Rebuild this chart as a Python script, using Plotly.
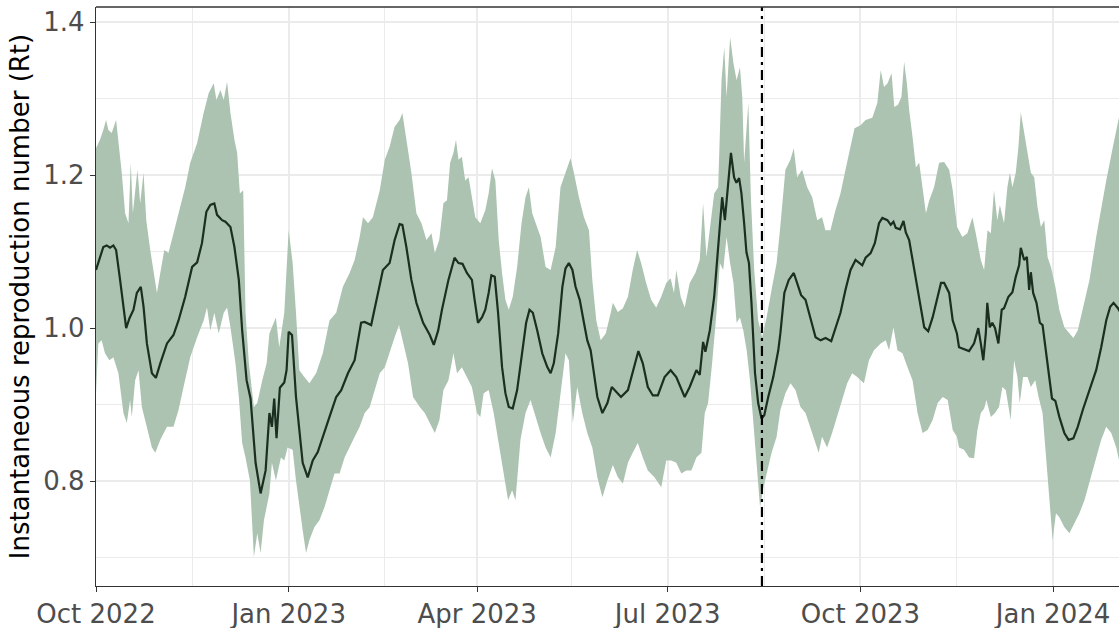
import pandas as pd
import plotly.graph_objects as go

START = pd.Timestamp("2022-10-01")
EVENT_DATE = "2023-08-15"

# (days since 2022-10-01, Rt)
median_pts = [(0,1.076),(3.5,1.106),(5.1,1.108),(6.7,1.105),(8.3,1.108),(9.6,1.102),(11.5,1.063),(13.1,1.028),(14.4,1.000),(16.0,1.013),(17.9,1.024),(19.5,1.046),(21.4,1.054),(22.7,1.028),(24.3,0.980),(26.7,0.941),(28.6,0.935),(30.7,0.954),(33.9,0.980),(37.0,0.991),(39.4,1.010),(42.6,1.041),(45.9,1.080),(48.3,1.086),(50.6,1.111),(52.7,1.152),(54.6,1.161),(56.5,1.163),(57.8,1.148),(60.2,1.141),(61.8,1.139),(64.2,1.132),(66.1,1.106),(68.2,1.063),(69.8,0.997),(71.9,0.932),(73.8,0.908),(76.2,0.824),(78.6,0.784),(81.0,0.814),(82.8,0.889),(84.0,0.871),(85.1,0.908),(86.2,0.856),(87.8,0.922),(89.9,0.929),(91.0,0.945),(92.0,0.995),(93.6,0.991),(95.5,0.910),(97.1,0.867),(98.7,0.824),(101.1,0.805),(103.5,0.827),(105.9,0.838),(109.1,0.863),(111.5,0.884),(114.7,0.910),(117.1,0.919),(120.3,0.941),(123.5,0.958),(126.6,1.007),(128.3,1.008),(131.4,1.004),(134.6,1.046),(137.0,1.076),(140.2,1.085),(142.6,1.115),(145.0,1.136),(146.3,1.135),(148.2,1.106),(150.6,1.063),(153.0,1.033),(156.2,1.007),(159.4,0.991),(161.3,0.978),(163.4,0.997),(165.2,1.024),(168.3,1.063),(171.2,1.092),(173.1,1.085),(175.0,1.084),(177.1,1.072),(179.5,1.063),(180.8,1.037),(182.4,1.007),(184.3,1.014),(185.9,1.024),(187.5,1.046),(188.8,1.069),(190.4,1.067),(192.0,1.020),(193.9,0.949),(195.5,0.915),(197.1,0.897),(199.0,0.895),(201.1,0.919),(203.5,0.967),(205.4,1.007),(207.0,1.024),(208.6,1.020),(210.7,0.997),(213.1,0.967),(215.5,0.949),(217.1,0.941),(218.6,0.954),(220.7,0.993),(222.7,1.054),(224.2,1.078),(225.8,1.085),(227.5,1.076),(229.0,1.054),(231.0,1.037),(233.0,1.007),(234.6,0.984),(236.2,0.971),(237.8,0.941),(239.4,0.910),(241.8,0.889),(244.2,0.902),(246.3,0.923),(250.7,0.910),(254.0,0.919),(257.2,0.954),(259.0,0.970),(261.1,0.954),(263.5,0.923),(265.9,0.912),(268.3,0.912),(271.5,0.936),(274.4,0.945),(277.1,0.936),(279.2,0.923),(281.1,0.910),(283.5,0.923),(286.7,0.945),(288.3,0.939),(289.9,0.982),(291.0,0.969),(293.1,0.997),(295.2,1.041),(296.7,1.093),(297.9,1.128),(299.0,1.171),(300.3,1.141),(301.9,1.190),(303.2,1.229),(304.7,1.197),(305.8,1.190),(307.1,1.196),(308.2,1.176),(309.5,1.137),(310.6,1.099),(311.8,1.085),(313.0,1.033),(314.7,0.941),(316.2,0.902),(317.8,0.882),(319.1,0.886),(321.0,0.910),(323.4,0.936),(325.8,0.971),(326.8,0.993),(328.7,1.046),(330.8,1.063),(333.2,1.072),(334.8,1.059),(336.7,1.043),(338.8,1.037),(341.2,1.014),(343.6,0.988),(346.0,0.984),(348.4,0.987),(351.1,0.983),(353.1,1.001),(355.5,1.020),(357.9,1.050),(360.3,1.076),(362.7,1.089),(365.9,1.082),(367.5,1.092),(369.9,1.098),(371.9,1.111),(373.9,1.137),(375.5,1.144),(377.9,1.141),(379.5,1.135),(380.8,1.139),(381.9,1.131),(383.9,1.129),(385.6,1.140),(386.7,1.125),(388.3,1.115),(389.9,1.089),(392.0,1.054),(393.9,1.024),(395.5,1.001),(397.4,0.996),(399.5,1.014),(401.9,1.041),(403.5,1.059),(405.0,1.059),(407.4,1.046),(409.1,1.010),(411.1,0.993),(412.1,0.975),(414.5,0.973),(416.9,0.970),(419.3,0.980),(421.3,1.000),(422.5,0.980),(423.7,0.958),(424.9,0.993),(425.6,1.033),(426.8,1.001),(428.0,1.007),(429.3,1.000),(430.9,0.980),(432.5,1.024),(433.6,1.026),(435.7,1.041),(437.6,1.047),(439.2,1.067),(440.8,1.082),(441.6,1.105),(443.2,1.089),(444.5,1.093),(445.6,1.050),(446.4,1.073),(447.5,1.046),(449.1,1.033),(450.7,1.007),(452.0,1.004),(453.6,0.967),(455.2,0.932),(456.5,0.908),(458.1,0.905),(460.0,0.884),(462.4,0.863),(464.4,0.854),(466.7,0.856),(468.8,0.871),(471.2,0.893),(474.4,0.919),(477.6,0.945),(480.0,0.975),(482.4,1.010),(484.3,1.028),(485.9,1.033),(488.0,1.026),(489.9,1.017)]

upper_pts = [(0,1.235),(1.9,1.246),(3.5,1.259),(4.8,1.272),(5.9,1.259),(7.5,1.255),(9.6,1.272),(11.2,1.229),(12.3,1.203),(13.9,1.150),(15.5,1.137),(16.6,1.216),(17.6,1.150),(19.8,1.207),(21.1,1.163),(22.7,1.203),(24.0,1.141),(25.9,1.102),(28.3,1.063),(29.1,1.046),(30.7,1.072),(32.6,1.102),(34.6,1.098),(37.0,1.124),(39.4,1.150),(42.6,1.184),(45.0,1.216),(48.3,1.242),(51.4,1.281),(53.8,1.307),(56.2,1.320),(57.5,1.298),(59.4,1.311),(61.0,1.298),(62.6,1.322),(64.2,1.281),(66.1,1.246),(67.4,1.229),(68.7,1.176),(70.3,1.180),(71.4,1.020),(73.0,0.954),(75.4,0.897),(77.0,0.902),(79.4,0.932),(81.5,0.954),(82.8,0.993),(85.9,1.014),(87.5,0.975),(89.9,1.020),(92.0,1.128),(93.9,1.085),(95.5,1.020),(97.1,0.945),(99.5,0.936),(101.9,0.928),(105.1,0.941),(108.3,0.967),(111.5,1.010),(114.7,1.020),(117.9,1.054),(121.1,1.072),(123.5,1.089),(125.9,1.119),(127.5,1.145),(129.9,1.137),(132.2,1.145),(135.5,1.180),(137.9,1.220),(140.2,1.237),(142.6,1.263),(145.0,1.272),(146.3,1.281),(148.2,1.246),(150.6,1.203),(153.0,1.150),(155.4,1.137),(157.8,1.115),(160.2,1.124),(161.8,1.098),(163.9,1.115),(165.9,1.163),(167.6,1.167),(169.1,1.216),(170.7,1.229),(171.9,1.246),(173.1,1.220),(174.7,1.224),(176.3,1.193),(177.9,1.197),(179.5,1.171),(181.1,1.145),(183.5,1.137),(185.9,1.154),(187.5,1.176),(189.1,1.209),(190.7,1.193),(192.3,1.115),(193.9,1.072),(195.5,1.037),(197.1,1.024),(199.0,1.041),(201.1,1.080),(203.2,1.137),(205.1,1.171),(206.7,1.184),(208.3,1.150),(209.9,1.137),(212.3,1.119),(214.7,1.080),(217.1,1.076),(219.5,1.106),(221.8,1.184),(224.2,1.203),(226.6,1.222),(228.2,1.203),(230.6,1.171),(233.0,1.145),(235.4,1.128),(237.0,1.063),(238.9,1.010),(241.0,0.984),(243.4,0.993),(245.8,1.020),(246.8,1.033),(249.2,1.021),(251.6,1.026),(254.0,1.041),(256.3,1.076),(258.4,1.102),(260.3,1.085),(262.7,1.059),(265.1,1.037),(267.5,1.027),(269.9,1.041),(272.3,1.059),(274.4,1.065),(276.0,1.046),(277.1,1.076),(279.2,1.041),(281.1,1.027),(283.5,1.059),(286.2,1.072),(288.3,1.089),(289.9,1.163),(291.5,1.093),(293.1,1.128),(295.2,1.176),(297.1,1.184),(298.7,1.324),(300.0,1.367),(301.1,1.302),(302.8,1.380),(304.4,1.346),(305.9,1.324),(307.5,1.341),(308.6,1.302),(309.5,1.216),(311.5,1.294),(312.7,1.171),(314.3,1.076),(316.2,1.010),(318.1,0.988),(320.2,1.014),(322.6,1.050),(325.0,1.085),(326.6,1.128),(329.2,1.207),(331.6,1.220),(333.2,1.235),(334.8,1.197),(337.2,1.207),(339.6,1.184),(342.0,1.171),(344.4,1.141),(346.7,1.145),(348.3,1.128),(350.7,1.128),(353.1,1.154),(355.5,1.176),(357.9,1.207),(360.3,1.237),(362.2,1.261),(365.1,1.265),(367.5,1.272),(370.7,1.275),(373.1,1.294),(374.7,1.337),(376.3,1.315),(378.0,1.320),(379.9,1.333),(381.2,1.289),(383.0,1.292),(384.6,1.302),(385.9,1.348),(387.2,1.320),(388.3,1.285),(389.9,1.250),(391.5,1.210),(393.1,1.216),(394.7,1.184),(396.3,1.150),(397.9,1.167),(400.2,1.184),(402.6,1.216),(405.0,1.217),(407.4,1.207),(409.1,1.180),(411.2,1.132),(413.7,1.119),(416.1,1.124),(418.5,1.145),(420.1,1.124),(422.5,1.089),(424.1,1.076),(425.7,1.128),(427.3,1.124),(428.8,1.180),(430.4,1.141),(431.6,1.161),(433.6,1.137),(435.2,1.184),(436.4,1.203),(437.6,1.184),(439.2,1.203),(440.5,1.237),(441.6,1.282),(443.2,1.255),(444.8,1.233),(446.4,1.203),(448.0,1.197),(449.6,1.158),(451.2,1.132),(452.8,1.141),(454.4,1.093),(456.0,1.080),(458.1,1.054),(460.0,1.024),(462.4,1.001),(464.8,0.993),(466.7,0.987),(468.8,0.997),(471.2,1.024),(474.4,1.063),(477.6,1.119),(480.0,1.158),(482.4,1.193),(485.6,1.237),(488.0,1.268),(489.9,1.294)]

lower_pts = [(0,0.915),(1.1,0.980),(2.7,0.984),(4.3,0.967),(6.4,0.958),(8.3,0.962),(10.7,0.941),(13.1,0.889),(14.7,0.876),(16.3,0.906),(17.1,0.884),(18.7,0.932),(20.3,0.945),(21.9,0.897),(24.3,0.871),(26.7,0.844),(28.3,0.837),(30.7,0.854),(33.9,0.871),(37.0,0.871),(39.4,0.893),(41.8,0.923),(45.0,0.962),(48.3,0.988),(51.4,1.010),(53.0,1.027),(54.6,0.997),(56.5,1.020),(58.6,0.993),(61.0,1.020),(62.6,1.027),(64.2,1.001),(66.6,0.954),(68.2,0.910),(69.8,0.850),(71.4,0.831),(73.5,0.801),(75.4,0.701),(77.0,0.732),(78.6,0.706),(80.2,0.749),(82.8,0.784),(84.0,0.824),(85.9,0.801),(88.3,0.831),(89.9,0.827),(91.5,0.844),(93.9,0.841),(95.5,0.801),(97.1,0.766),(98.7,0.736),(100.3,0.706),(101.9,0.723),(104.3,0.740),(106.7,0.749),(109.1,0.766),(111.5,0.788),(113.9,0.810),(116.3,0.810),(118.7,0.831),(121.1,0.844),(123.5,0.858),(125.9,0.871),(128.3,0.889),(130.7,0.897),(133.1,0.919),(135.5,0.941),(137.9,0.949),(140.2,0.967),(142.6,0.988),(144.7,1.004),(146.6,0.980),(149.0,0.954),(151.4,0.910),(154.6,0.897),(157.0,0.889),(159.4,0.876),(161.8,0.863),(164.0,0.880),(165.9,0.919),(168.3,0.932),(170.7,0.967),(172.4,0.941),(174.7,0.949),(177.1,0.936),(179.5,0.923),(181.9,0.889),(183.5,0.884),(185.1,0.915),(187.5,0.919),(189.9,0.889),(192.3,0.844),(194.7,0.810),(196.8,0.775),(198.7,0.788),(200.3,0.775),(202.7,0.854),(205.1,0.889),(207.5,0.906),(209.9,0.884),(212.3,0.863),(214.7,0.844),(217.1,0.831),(219.5,0.863),(221.8,0.910),(224.2,0.967),(225.8,0.958),(227.7,0.876),(229.8,0.923),(232.2,0.889),(234.6,0.863),(237.0,0.844),(239.4,0.805),(241.8,0.779),(244.2,0.801),(246.8,0.821),(249.2,0.805),(251.6,0.797),(254.0,0.824),(256.3,0.837),(258.7,0.850),(261.1,0.831),(263.5,0.814),(266.7,0.805),(269.9,0.792),(272.3,0.827),(274.7,0.827),(277.1,0.824),(279.5,0.810),(281.9,0.814),(284.3,0.814),(286.7,0.831),(289.1,0.837),(290.7,0.889),(292.3,0.902),(294.2,0.954),(296.3,1.020),(297.9,1.085),(299.5,1.076),(301.1,1.119),(302.8,1.085),(304.4,1.059),(305.9,1.007),(307.5,1.014),(309.1,0.997),(310.7,0.971),(312.3,0.932),(313.9,0.876),(315.5,0.824),(317.1,0.766),(318.7,0.792),(320.2,0.810),(322.6,0.837),(325.0,0.858),(326.8,0.893),(329.2,0.915),(331.6,0.928),(334.0,0.919),(336.4,0.897),(338.8,0.889),(341.2,0.871),(343.6,0.850),(345.1,0.837),(346.7,0.858),(349.1,0.844),(351.5,0.863),(353.9,0.884),(356.3,0.906),(358.7,0.928),(361.1,0.941),(363.5,0.936),(366.7,0.928),(369.1,0.958),(371.5,0.971),(374.7,0.980),(377.1,0.984),(378.7,0.971),(380.8,1.001),(382.7,0.971),(385.1,0.967),(387.5,0.949),(389.9,0.932),(392.3,0.889),(394.7,0.863),(397.1,0.867),(399.5,0.880),(401.9,0.902),(404.3,0.910),(406.7,0.906),(409.1,0.867),(411.1,0.858),(412.1,0.844),(414.5,0.841),(416.9,0.831),(419.3,0.830),(420.9,0.867),(422.5,0.889),(424.1,0.895),(425.2,0.906),(427.3,0.884),(429.3,0.889),(431.2,0.897),(432.8,0.923),(434.4,0.919),(436.8,0.880),(438.4,0.958),(440.0,0.936),(441.1,0.902),(442.7,0.936),(444.8,0.936),(446.4,0.923),(448.5,0.932),(450.1,0.910),(452.0,0.889),(453.9,0.824),(455.2,0.779),(456.8,0.723),(458.4,0.758),(460.0,0.753),(462.4,0.740),(464.8,0.732),(467.2,0.745),(469.6,0.758),(472.0,0.775),(474.4,0.801),(477.6,0.831),(480.0,0.854),(482.4,0.871),(484.8,0.863),(487.2,0.844),(489.9,0.810)]

Y_TICKS = [0.8, 1.0, 1.2, 1.4]
Y_TICK_LABELS = ["0.8", "1.0", "1.2", "1.4"]
Y_TITLE = "Instantaneous reproduction number (Rt)"
X_RANGE = ["2022-10-01", "2024-02-01 12:00"]
Y_RANGE = [0.663, 1.4196]


def to_dates(pts):
    return [START + pd.Timedelta(days=d) for d, _ in pts]


def to_vals(pts):
    return [v for _, v in pts]


band_x = to_dates(upper_pts) + to_dates(lower_pts)[::-1]
band_y = to_vals(upper_pts) + to_vals(lower_pts)[::-1]

fig = go.Figure()
fig.add_trace(go.Scatter(x=band_x, y=band_y, fill="toself", mode="lines",
                         line=dict(width=0), fillcolor="#abc3b0",
                         hoverinfo="skip", showlegend=False))
fig.add_trace(go.Scatter(x=to_dates(median_pts), y=to_vals(median_pts), mode="lines",
                         line=dict(color="#1b2e1f", width=2.2), showlegend=False))
fig.add_trace(go.Scatter(x=[EVENT_DATE, EVENT_DATE], y=Y_RANGE, mode="lines",
                         line=dict(color="#000000", width=2.2, dash="10px,5px,3px,5px"),
                         showlegend=False))

grid = "#ebebeb"
fig.update_layout(
    width=1119, height=628,
    margin=dict(l=96, r=0, t=7, b=42),
    paper_bgcolor="white", plot_bgcolor="white",
    font=dict(family="DejaVu Sans", size=26, color="#4d4d4d"),
    showlegend=False,
    xaxis=dict(range=X_RANGE, type="date", tick0="2022-10-01", dtick="M3",
               tickformat="%b %Y", ticks="outside", ticklen=5, tickwidth=1.3,
               tickcolor="#333333", showline=True, linecolor="#333333", linewidth=1.3,
               showgrid=True, gridcolor=grid, gridwidth=1.6, zeroline=False,
               automargin=False,
               tickfont=dict(size=26, color="#4d4d4d"),
               minor=dict(tick0="2022-11-16", dtick="M3", showgrid=True,
                          gridcolor=grid, gridwidth=0.8)),
    yaxis=dict(range=Y_RANGE, tickvals=Y_TICKS, ticktext=Y_TICK_LABELS,
               ticks="outside", ticklen=5, tickwidth=1.3, tickcolor="#333333",
               showline=True, linecolor="#333333", linewidth=1.3,
               showgrid=True, gridcolor=grid, gridwidth=1.6, zeroline=False,
               automargin=False,
               tickfont=dict(size=26, color="#4d4d4d"),
               title=dict(text=Y_TITLE, font=dict(size=26, color="#000000"), standoff=6),
               minor=dict(dtick=0.1, tick0=0.7, showgrid=True, gridcolor=grid, gridwidth=0.8)),
    shapes=[dict(type="line", xref="paper", yref="paper", x0=0, x1=1, y0=1, y1=1,
                 line=dict(color="#333333", width=1.3))],
)

fig.write_html("out.html", config={"displayModeBar": False},
               post_script="document.body.style.margin='0px';document.body.style.overflow='hidden';")
